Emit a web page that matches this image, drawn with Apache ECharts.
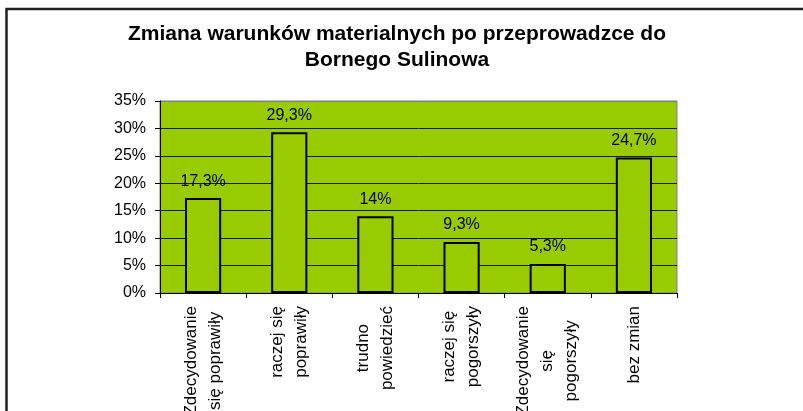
<!DOCTYPE html>
<html>
<head>
<meta charset="utf-8">
<script src="https://cdn.jsdelivr.net/npm/echarts@6/dist/echarts.min.js"></script>
<style>
html,body{margin:0;padding:0;background:#fff;}
#chart{width:803px;height:411px;}
</style>
</head>
<body>
<div id="chart"></div>
<script>
const titleText = 'Zmiana warunków materialnych po przeprowadzce do\nBornego Sulinowa';
const categories = [
  'Zdecydowanie\nsię poprawiły',
  'raczej się\npoprawiły',
  'trudno\npowiedzieć',
  'raczej się\npogorszyły',
  'Zdecydowanie\nsię\npogorszyły',
  'bez zmian'
];
const values = [17.3, 29.3, 14, 9.3, 5.3, 24.7];
const valueLabels = ['17,3%', '29,3%', '14%', '9,3%', '5,3%', '24,7%'];
const yTicks = [0, 5, 10, 15, 20, 25, 30, 35];

const FONT = '"Liberation Sans", Arial, sans-serif';
const chart = echarts.init(document.getElementById('chart'), null, {renderer: 'canvas'});

chart.setOption({
  animation: false,
  backgroundColor: '#ffffff',
  title: {
    text: titleText,
    left: 397,
    top: 21,
    textAlign: 'center',
    padding: 0,
    textStyle: {
      fontFamily: FONT,
      fontWeight: 'bold',
      fontSize: 21,
      lineHeight: 26,
      color: '#000'
    }
  },
  graphic: [{
    type: 'rect',
    shape: {x: 6.5, y: 9, width: 900, height: 600},
    style: {fill: 'none', stroke: '#222', lineWidth: 2.5},
    silent: true,
    z: 100
  }],
  grid: {
    left: 160,
    top: 101,
    right: 126,
    bottom: 118,
    containLabel: false,
    outerBoundsMode: 'none',
    show: true,
    backgroundColor: '#99CC00',
    borderColor: '#808080',
    borderWidth: 1
  },
  xAxis: {
    type: 'category',
    data: categories,
    axisLine: {lineStyle: {color: '#000', width: 1}},
    axisTick: {show: true, length: 5, lineStyle: {color: '#000'}},
    axisLabel: {
      rotate: 90,
      margin: 13,
      interval: 0,
      color: '#000',
      fontFamily: FONT,
      fontSize: 17,
      lineHeight: 24,
      formatter: function (v) {
        return v.split('\n').map(function (l) { return '{c|' + l + '}'; }).join('\n');
      },
      rich: {
        c: {align: 'center', fontFamily: FONT, fontSize: 17, lineHeight: 24, color: '#000'}
      }
    }
  },
  yAxis: {
    type: 'value',
    min: yTicks[0],
    max: yTicks[yTicks.length - 1],
    interval: yTicks[1] - yTicks[0],
    axisLine: {show: true, lineStyle: {color: '#000', width: 1}},
    axisTick: {show: true, length: 5, lineStyle: {color: '#000'}},
    axisLabel: {
      margin: 14,
      color: '#000',
      fontFamily: FONT,
      fontSize: 16,
      formatter: '{value}%'
    },
    splitLine: {show: true, lineStyle: {color: ['#1a1a1a','#1a1a1a','#1a1a1a','#1a1a1a','#1a1a1a','#1a1a1a','#1a1a1a','#808080'], width: 1}}
  },
  series: [{
    type: 'bar',
    data: values,
    barWidth: '42%',
    itemStyle: {color: '#99CC00', borderColor: '#000', borderWidth: 2},
    label: {
      show: true,
      position: 'top',
      distance: 9,
      color: '#000',
      fontFamily: FONT,
      fontSize: 16,
      formatter: function (p) { return valueLabels[p.dataIndex]; }
    }
  }]
});
</script>
</body>
</html>
